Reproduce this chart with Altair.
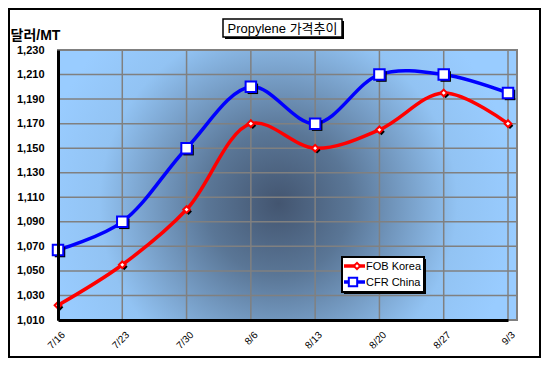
import altair as alt
import pandas as pd

# ---------------- data ----------------
dates = ["7/16", "7/23", "7/30", "8/6", "8/13", "8/20", "8/27", "9/3"]
fob_korea = [1022, 1055, 1100, 1170, 1150, 1165, 1195, 1170]
cfr_china = [1067, 1090, 1150, 1200, 1170, 1210, 1210, 1195]
series_names = ["FOB Korea", "CFR China"]
series_colors = ["#FF0000", "#0000FF"]
series_shapes = ["diamond", "square"]
y_ticks = [1010, 1030, 1050, 1070, 1090, 1110, 1130, 1150, 1170, 1190, 1210, 1230]
title_text = "Propylene 가격추이"
y_title = "달러/MT"

W, H = 459, 270
FONT = "Liberation Sans, Arial, Noto Sans CJK KR"

df = pd.DataFrame({
    "date": dates * 2,
    "series": [series_names[0]] * len(dates) + [series_names[1]] * len(dates),
    "value": fob_korea + cfr_china,
})
df_dates = pd.DataFrame({"date": dates})
df_ticks = pd.DataFrame({"value": y_ticks})
one = pd.DataFrame({"k": [0]})

x_scale = alt.Scale(type="point", domain=dates, range=[0, 450], padding=0)
y_scale = alt.Scale(domain=[1010, 1230], nice=False, zero=False)

x_axis = alt.Axis(
    title=None, labelAngle=-45, labelAlign="right", labelBaseline="middle",
    labelPadding=13, labelOffset=5, labelFontSize=10, labelFont=FONT,
    labelColor="black", ticks=False, domainColor="black", domainWidth=3,
    grid=False, zindex=1,
)
y_axis = alt.Axis(
    values=y_ticks, format=",d", title=y_title, titleAngle=0, titleX=-48,
    titleY=-15, titleAlign="left", titleBaseline="middle", titleFontSize=14,
    titleFontWeight="bold", titleFont=FONT, titleColor="black",
    labelFont=FONT, labelFontWeight="bold", labelFontSize=11,
    labelColor="black", labelPadding=14, ticks=False, domainColor="black",
    domainWidth=3, grid=False, zindex=1,
)

# ---------------- background ----------------
bg = alt.Chart(one).mark_rect(
    fill=alt.RadialGradient(
        gradient="radial",
        stops=[
            alt.GradientStop(offset=0, color="#435570"),
            alt.GradientStop(offset=0.3, color="#5a7696"),
            alt.GradientStop(offset=0.75, color="#92c3f3"),
            alt.GradientStop(offset=1, color="#99ccff"),
        ],
        x1=0.48, y1=0.54, r1=0, x2=0.48, y2=0.54, r2=0.52,
    )
).encode(x=alt.value(0), x2=alt.value(W), y=alt.value(0), y2=alt.value(H))

vgrid = alt.Chart(df_dates).mark_rule(color="#808080", strokeWidth=1.5).encode(
    x=alt.X("date:O", sort=dates, scale=x_scale, axis=x_axis)
)
hgrid = alt.Chart(df_ticks).mark_rule(color="#808080", strokeWidth=1.5).encode(
    y=alt.Y("value:Q", scale=y_scale, axis=y_axis)
)
plot_border = alt.Chart(one).mark_rect(
    fillOpacity=0, stroke="#808080", strokeWidth=2
).encode(x=alt.value(0), x2=alt.value(W), y=alt.value(0), y2=alt.value(H))

layers = [bg, vgrid, hgrid, plot_border]

sizes = [45, 110]
for name, color, shape, size in zip(series_names, series_colors, series_shapes, sizes):
    sub = df[df["series"] == name]
    base = alt.Chart(sub).encode(
        x=alt.X("date:O", sort=dates, scale=x_scale, axis=x_axis),
        y=alt.Y("value:Q", scale=y_scale, axis=y_axis),
    )
    line = base.mark_line(color=color, strokeWidth=3.5, interpolate="catmull-rom")
    shadow = base.mark_point(shape=shape, filled=True, color="black", opacity=1,
                             size=size, xOffset=2, yOffset=2)
    pts = base.mark_point(shape=shape, filled=True, fill="white", stroke=color,
                          strokeWidth=2, opacity=1, size=size)
    layers += [line, shadow, pts]

# ---------------- legend ----------------
lx0, lx1, ly0, ly1 = 284, 366, 207, 242
layers.append(alt.Chart(one).mark_rect(fill="black").encode(
    x=alt.value(lx0 + 2), x2=alt.value(lx1 + 2), y=alt.value(ly0 + 2), y2=alt.value(ly1 + 2)))
layers.append(alt.Chart(one).mark_rect(fill="white", stroke="black", strokeWidth=2).encode(
    x=alt.value(lx0), x2=alt.value(lx1), y=alt.value(ly0), y2=alt.value(ly1)))
item_y = [216, 232]
marker_x = [299, 295]
for name, color, shape, size, iy, mx in zip(series_names, series_colors, series_shapes, [40, 70], item_y, marker_x):
    layers.append(alt.Chart(one).mark_rule(color=color, strokeWidth=3.5).encode(
        x=alt.value(286), x2=alt.value(307), y=alt.value(iy)))
    layers.append(alt.Chart(one).mark_point(shape=shape, filled=True, fill="white",
                                            stroke=color, strokeWidth=2, opacity=1,
                                            size=size).encode(
        x=alt.value(mx), y=alt.value(iy)))
    layers.append(alt.Chart(one).mark_text(text=name, align="left", baseline="middle",
                                           font=FONT, fontSize=11, color="black").encode(
        x=alt.value(308), y=alt.value(iy + 0.5)))

# ---------------- title box ----------------
tx0, tx1, ty0, ty1 = 165, 284, -31, -13
layers.append(alt.Chart(one).mark_rect(fill="black").encode(
    x=alt.value(tx0 + 2), x2=alt.value(tx1 + 2), y=alt.value(ty0 + 2), y2=alt.value(ty1 + 2)))
layers.append(alt.Chart(one).mark_rect(fill="white", stroke="black", strokeWidth=1.5).encode(
    x=alt.value(tx0), x2=alt.value(tx1), y=alt.value(ty0), y2=alt.value(ty1)))
layers.append(alt.Chart(one).mark_text(text=title_text, align="center", baseline="middle",
                                       font=FONT, fontSize=13, color="black").encode(
    x=alt.value((tx0 + tx1) / 2), y=alt.value((ty0 + ty1) / 2 + 0.5)))

# ---------------- outer frame ----------------
layers.append(alt.Chart(one).mark_rect(fillOpacity=0, stroke="black", strokeWidth=2).encode(
    x=alt.value(-49), x2=alt.value(482), y=alt.value(-41), y2=alt.value(307)))

chart = alt.layer(*layers).properties(
    width=W, height=H,
    autosize=alt.AutoSizeParams(type="none"),
    padding={"left": 50, "top": 42, "right": 24, "bottom": 38},
    background="white",
).configure_view(stroke=None)

chart.save("out.html", embed_options={"renderer": "svg", "actions": False})
